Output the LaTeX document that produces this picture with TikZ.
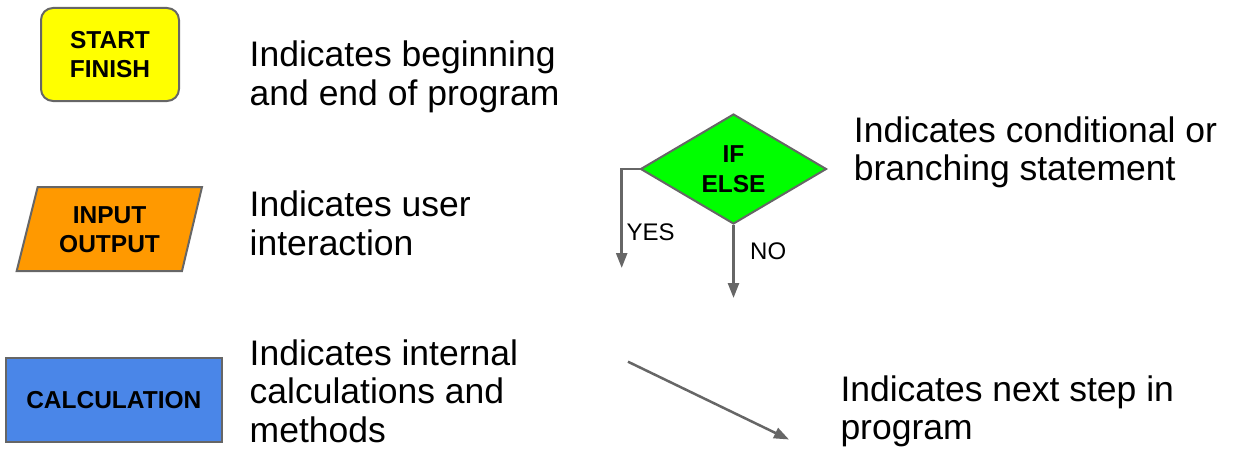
\documentclass[tikz,border=0pt]{standalone}
\usepackage{fontspec}
\setmainfont{Liberation Sans}
\usetikzlibrary{shapes.geometric,arrows.meta}
\definecolor{edgegray}{HTML}{666666}
\definecolor{startyellow}{HTML}{FFFF00}
\definecolor{ioorange}{HTML}{FF9900}
\definecolor{calcblue}{HTML}{4A86E8}
\definecolor{ifgreen}{HTML}{00FF00}
\tikzset{
  shapebox/.style={draw=edgegray, line width=2pt},
  boxtext/.style={font=\fontsize{24.5}{29.5}\selectfont\bfseries, align=center, text=black},
  desc/.style={font=\fontsize{35.5}{38.5}\selectfont, align=left, anchor=base west, inner sep=0pt, text=black},
  branchlabel/.style={font=\fontsize{24}{28}\selectfont, anchor=base west, inner sep=0pt, text=black},
  flowarrow/.style={draw=edgegray, line width=2.5pt, -{Triangle[length=15pt,width=11pt]}}
}
\begin{document}
\begin{tikzpicture}[x=1pt,y=-1pt]
\useasboundingbox (0,0) rectangle (1237,452);

% Start / finish
\node[shapebox, boxtext, fill=startyellow, rounded corners=12pt, minimum width=138pt, minimum height=93pt, inner sep=0pt] (start) at (110,54.5) {START\\FINISH};

% Input / output parallelogram
\coordinate (io1) at (37.7,187);
\coordinate (io2) at (202,187);
\coordinate (io3) at (182,271);
\coordinate (io4) at (16.7,271);
\filldraw[shapebox, fill=ioorange] (io1) -- (io2) -- (io3) -- (io4) -- cycle;
\node[boxtext, inner sep=0pt] (io) at (109.6,229.5) {INPUT\\OUTPUT};

% Calculation
\node[shapebox, boxtext, fill=calcblue, minimum width=215.7pt, minimum height=83.4pt, inner sep=0pt] (calc) at (113.8,400) {CALCULATION};

% Decision diamond
\node[shapebox, boxtext, fill=ifgreen, diamond, aspect=1.69, minimum width=186pt, minimum height=110pt, inner sep=0pt] (dec) at (733.5,169) {IF\\ELSE};

\coordinate (yesend) at (621.7,268);
\coordinate (noend) at (733.5,298);
\draw[flowarrow] (dec.west) -| (yesend);
\draw[flowarrow] (dec.south) -- (noend);
\node[branchlabel] (yes) at (626.3,240) {YES};
\node[branchlabel] (no) at (750,259.3) {NO};

% Next-step arrow
\coordinate (nsstart) at (628,361.7);
\coordinate (nsend) at (789,439.5);
\draw[flowarrow] (nsstart) -- (nsend);

% Descriptions (anchored at the baseline of the last line)
\node[desc] (d1) at (249.5,105.2) {Indicates beginning\\and end of program};
\node[desc] (d2) at (249.5,255.2) {Indicates user\\interaction};
\node[desc] (d3) at (249.5,442) {Indicates internal\\calculations and\\methods};
\node[desc] (d4) at (853.7,180.8) {Indicates conditional or\\branching statement};
\node[desc] (d5) at (840.3,439.5) {Indicates next step in\\program};
\end{tikzpicture}
\end{document}
